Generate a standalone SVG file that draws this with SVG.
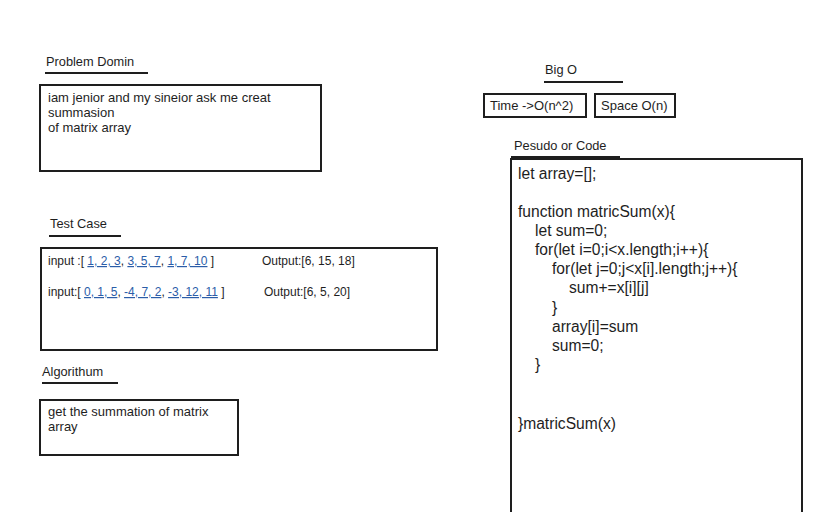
<svg xmlns="http://www.w3.org/2000/svg" width="831" height="512" viewBox="0 0 831 512">
<style>
text{font-family:"Liberation Sans",Arial,sans-serif;fill:#1e1e1e}
.t{font-size:13px}
.s{font-size:12px}
.h{font-size:12.8px}
.c{font-size:15.6px}
.box{fill:#fff;stroke:#1e1e1e;stroke-width:2}
.ul{stroke:#1e1e1e;stroke-width:2;fill:none}
.lk{fill:#2b5da8;text-decoration:underline}
</style>
<rect width="831" height="512" fill="#fff"/>
<g id="problem-domain">
<text class="h" x="46" y="66">Problem Domin</text>
<line class="ul" x1="45" y1="73" x2="148" y2="73"/>
<rect class="box" x="40" y="85" width="281" height="86"/>
<text class="t" x="48" y="102">iam jenior and my sineior ask me creat</text>
<text class="t" x="48" y="117">summasion</text>
<text class="t" x="48" y="132">of matrix array</text>
</g>
<g id="test-case">
<text class="h" x="50" y="228">Test Case</text>
<line class="ul" x1="49" y1="236" x2="121" y2="236"/>
<rect class="box" x="41" y="248" width="396" height="102"/>
<text class="s" x="48" y="265">input :[ <tspan class="lk">1, 2, 3</tspan>, <tspan class="lk">3, 5, 7</tspan>, <tspan class="lk">1, 7, 10</tspan> ]</text>
<text class="s" x="262" y="265">Output:[6, 15, 18]</text>
<text class="s" x="48" y="296">input:[ <tspan class="lk">0, 1, 5</tspan>, <tspan class="lk">-4, 7, 2</tspan>, <tspan class="lk">-3, 12, 11</tspan> ]</text>
<text class="s" x="264" y="296">Output:[6, 5, 20]</text>
</g>
<g id="algorithm">
<text class="h" x="42" y="376">Algorithum</text>
<line class="ul" x1="42" y1="383" x2="118" y2="383"/>
<rect class="box" x="40" y="400" width="198" height="55"/>
<text class="t" x="48" y="416">get the summation of matrix</text>
<text class="t" x="48" y="431">array</text>
</g>
<g id="big-o">
<text class="h" x="545" y="74">Big O</text>
<line class="ul" x1="544" y1="82" x2="623" y2="82"/>
</g>
<g id="time">
<rect class="box" x="484" y="94" width="102" height="23"/>
<text class="t" x="490" y="110">Time -&gt;O(n^2)</text>
</g>
<g id="space">
<rect class="box" x="595" y="94" width="80" height="23"/>
<text class="t" x="601" y="110">Space O(n)</text>
</g>
<g id="code">
<text class="h" x="514" y="150">Pesudo or Code</text>
<line class="ul" x1="511" y1="157" x2="620" y2="157"/>
<rect class="box" x="511" y="159" width="291" height="370"/>
<text class="c" x="518" y="179">let array=[];</text>
<text class="c" x="518" y="217">function matricSum(x){</text>
<text class="c" x="535" y="236">let sum=0;</text>
<text class="c" x="535" y="255">for(let i=0;i&lt;x.length;i++){</text>
<text class="c" x="552" y="274">for(let j=0;j&lt;x[i].length;j++){</text>
<text class="c" x="569" y="293">sum+=x[i][j]</text>
<text class="c" x="552" y="313">}</text>
<text class="c" x="552" y="332">array[i]=sum</text>
<text class="c" x="552" y="351">sum=0;</text>
<text class="c" x="535" y="370">}</text>
<text class="c" x="518" y="429">}matricSum(x)</text>
</g>
<g id="connectors"></g>
</svg>
